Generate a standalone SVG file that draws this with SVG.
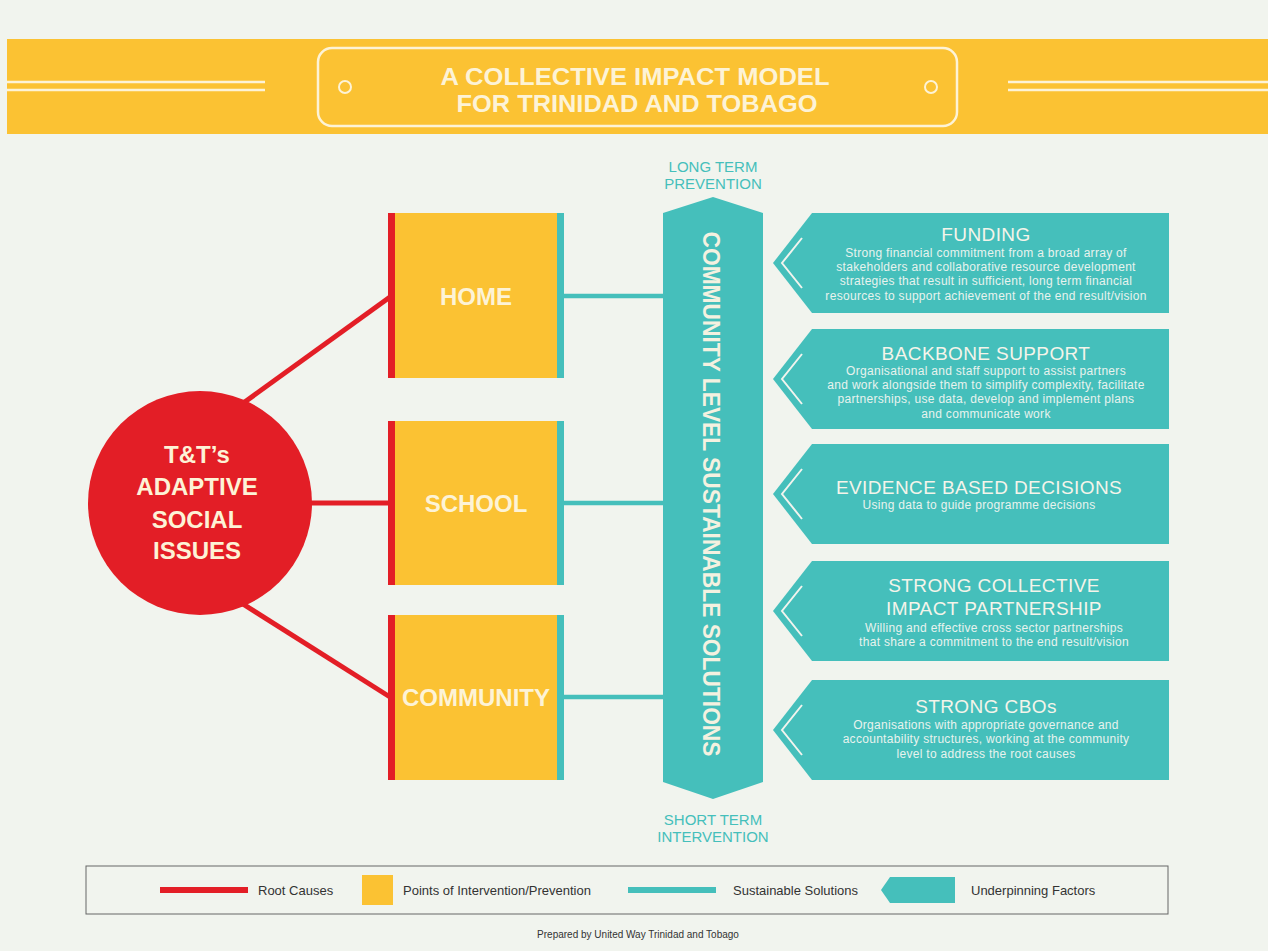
<svg xmlns="http://www.w3.org/2000/svg" width="1268" height="951" viewBox="0 0 1268 951">
<style>
.bg{fill:#f1f4ee}
.yel{fill:#fbc233}
.teal{fill:#45bfbb}
.red{fill:#e31e26}
.rline{stroke:#e31e26;stroke-width:5;fill:none}
.tline{stroke:#45bfbb;stroke-width:4.5;fill:none}
.wline{stroke:#fdf3d6;stroke-width:2.5;fill:none}
.chev{stroke:#f1f4ee;stroke-width:2;fill:none}
.title{font-family:"Liberation Sans",Arial,sans-serif;font-weight:bold;font-size:24px;fill:#fdf3d6;text-anchor:middle}
.box{font-family:"Liberation Sans",Arial,sans-serif;font-weight:bold;font-size:24px;fill:#fdf3d6;text-anchor:middle}
.circ{font-family:"Liberation Sans",Arial,sans-serif;font-weight:bold;font-size:24px;fill:#fdf3d6;text-anchor:middle}
.col{font-family:"Liberation Sans",Arial,sans-serif;font-weight:bold;font-size:24px;fill:#f4f1e0;text-anchor:middle}
.term{font-family:"Liberation Sans",Arial,sans-serif;font-size:15px;fill:#45bfbb;text-anchor:middle}
.ph{font-family:"Liberation Sans",Arial,sans-serif;font-size:19px;letter-spacing:0.4px;fill:#f4f4ea;text-anchor:middle}
.pb{font-family:"Liberation Sans",Arial,sans-serif;font-size:12px;letter-spacing:0.3px;fill:#e8f3ee;text-anchor:middle}
.leg{font-family:"Liberation Sans",Arial,sans-serif;font-size:13px;fill:#333}
.foot{font-family:"Liberation Sans",Arial,sans-serif;font-size:10px;fill:#333;text-anchor:middle}
</style>
<defs>
<path id="panel" d="M812,0 H1169 V100 H812 L773,50 Z"/>
<path id="chevron" d="M802,25 L782,50 L802,75"/>
</defs>
<rect class="bg" x="0" y="0" width="1268" height="951"/>

<g id="header">
<rect class="yel" x="7" y="39" width="1261" height="95"/>
<line class="wline" x1="7" y1="82" x2="265" y2="82"/>
<line class="wline" x1="7" y1="90" x2="265" y2="90"/>
<line class="wline" x1="1008" y1="82" x2="1268" y2="82"/>
<line class="wline" x1="1008" y1="90" x2="1268" y2="90"/>
<rect x="318" y="48" width="639" height="78" rx="14" fill="none" stroke="#fdf3d6" stroke-width="2.5"/>
<circle cx="345" cy="87" r="6" fill="none" stroke="#fdf3d6" stroke-width="2"/>
<circle cx="931" cy="87" r="6" fill="none" stroke="#fdf3d6" stroke-width="2"/>
<text class="title" x="635" y="85" textLength="389" lengthAdjust="spacingAndGlyphs">A COLLECTIVE IMPACT MODEL</text>
<text class="title" x="637" y="112" textLength="361" lengthAdjust="spacingAndGlyphs">FOR TRINIDAD AND TOBAGO</text>
</g>

<g id="connectors">
<line class="rline" x1="235" y1="409" x2="390" y2="297"/>
<line class="rline" x1="290" y1="503" x2="390" y2="503"/>
<line class="rline" x1="235" y1="599" x2="390" y2="697"/>
<line class="tline" x1="562" y1="296" x2="665" y2="296"/>
<line class="tline" x1="562" y1="503" x2="665" y2="503"/>
<line class="tline" x1="562" y1="697" x2="665" y2="697"/>
</g>

<g id="issues">
<circle class="red" cx="200" cy="503" r="112"/>
<text class="circ" x="197" y="463">T&amp;T’s</text>
<text class="circ" x="197" y="495">ADAPTIVE</text>
<text class="circ" x="197" y="528">SOCIAL</text>
<text class="circ" x="197" y="559">ISSUES</text>
</g>

<g id="home">
<rect class="yel" x="388" y="213" width="176" height="165"/>
<rect class="red" x="388" y="213" width="7" height="165"/>
<rect class="teal" x="557" y="213" width="7" height="165"/>
<text class="box" x="476" y="305">HOME</text>
</g>
<g id="school">
<rect class="yel" x="388" y="421" width="176" height="164"/>
<rect class="red" x="388" y="421" width="7" height="164"/>
<rect class="teal" x="557" y="421" width="7" height="164"/>
<text class="box" x="476" y="512">SCHOOL</text>
</g>
<g id="community">
<rect class="yel" x="388" y="615" width="176" height="165"/>
<rect class="red" x="388" y="615" width="7" height="165"/>
<rect class="teal" x="557" y="615" width="7" height="165"/>
<text class="box" x="476" y="706">COMMUNITY</text>
</g>

<g id="column">
<text class="term" x="713" y="172">LONG TERM</text>
<text class="term" x="713" y="189">PREVENTION</text>
<path class="teal" d="M663,213 L713,197 L763,213 V782 L713,799 L663,782 Z"/>
<text class="col" transform="translate(703,494) rotate(90)" x="0" y="0" textLength="525" lengthAdjust="spacingAndGlyphs">COMMUNITY LEVEL SUSTAINABLE SOLUTIONS</text>
<text class="term" x="713" y="825">SHORT TERM</text>
<text class="term" x="713" y="842">INTERVENTION</text>
</g>

<g id="funding">
<use href="#panel" class="teal" transform="translate(0,213)"/>
<use href="#chevron" class="chev" transform="translate(0,213)"/>
<text class="ph" x="986" y="241">FUNDING</text>
<text class="pb" x="986" y="257">Strong financial commitment from a broad array of</text>
<text class="pb" x="986" y="271">stakeholders and collaborative resource development</text>
<text class="pb" x="986" y="285">strategies that result in sufficient, long term financial</text>
<text class="pb" x="986" y="300">resources to support achievement of the end result/vision</text>
</g>
<g id="backbone">
<use href="#panel" class="teal" transform="translate(0,329)"/>
<use href="#chevron" class="chev" transform="translate(0,329)"/>
<text class="ph" x="986" y="360">BACKBONE SUPPORT</text>
<text class="pb" x="986" y="375">Organisational and staff support to assist partners</text>
<text class="pb" x="986" y="389">and work alongside them to simplify complexity, facilitate</text>
<text class="pb" x="986" y="403">partnerships, use data, develop and implement plans</text>
<text class="pb" x="986" y="418">and communicate work</text>
</g>
<g id="evidence">
<use href="#panel" class="teal" transform="translate(0,444)"/>
<use href="#chevron" class="chev" transform="translate(0,444)"/>
<text class="ph" x="979" y="494">EVIDENCE BASED DECISIONS</text>
<text class="pb" x="979" y="509">Using data to guide programme decisions</text>
</g>
<g id="partnership">
<use href="#panel" class="teal" transform="translate(0,561)"/>
<use href="#chevron" class="chev" transform="translate(0,561)"/>
<text class="ph" x="994" y="592">STRONG COLLECTIVE</text>
<text class="ph" x="994" y="615">IMPACT PARTNERSHIP</text>
<text class="pb" x="994" y="632">Willing and effective cross sector partnerships</text>
<text class="pb" x="994" y="646">that share a commitment to the end result/vision</text>
</g>
<g id="cbos">
<use href="#panel" class="teal" transform="translate(0,680)"/>
<use href="#chevron" class="chev" transform="translate(0,680)"/>
<text class="ph" x="986" y="713">STRONG CBOs</text>
<text class="pb" x="986" y="729">Organisations with appropriate governance and</text>
<text class="pb" x="986" y="743">accountability structures, working at the community</text>
<text class="pb" x="986" y="758">level to address the root causes</text>
</g>

<g id="legend">
<rect x="86" y="866" width="1082" height="48" fill="none" stroke="#666" stroke-width="1"/>
<rect class="red" x="160" y="887" width="88" height="6"/>
<text class="leg" x="258" y="895">Root Causes</text>
<rect class="yel" x="362" y="875" width="31" height="30"/>
<text class="leg" x="403" y="895">Points of Intervention/Prevention</text>
<rect class="teal" x="628" y="887" width="88" height="6"/>
<text class="leg" x="733" y="895">Sustainable Solutions</text>
<path class="teal" d="M890,877 H955 V903 H890 L881,890 Z"/>
<text class="leg" x="971" y="895">Underpinning Factors</text>
</g>
<text class="foot" x="638" y="938">Prepared by United Way Trinidad and Tobago</text>
</svg>
